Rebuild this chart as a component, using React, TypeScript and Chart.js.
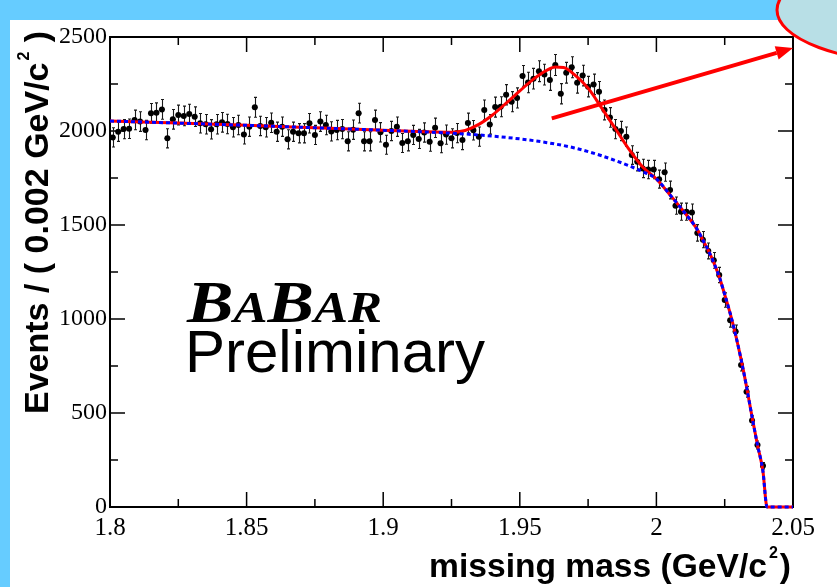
import React, { useEffect, useRef } from 'react';
import { Chart, registerables } from 'chart.js';

Chart.register(...registerables);

// ---- data ----
const binLow = 1.8;
const binWidth = 0.002;
const counts = [
  1966, 1996, 2010, 2012, 2059, 2050, 2005, 2094, 2097, 2115,
  1961, 2062, 2085, 2080, 2090, 2076, 2041, 2036, 2009, 2036,
  2046, 2037, 2020, 2032, 1982, 2023, 2126, 2027, 2020, 2044,
  1996, 2023, 1956, 1996, 1988, 1988, 2041, 1979, 2050, 2032,
  1998, 2005, 2010, 1945, 2007, 2095, 1945, 1945, 2059, 1993,
  1927, 2000, 2023, 1936, 1945, 1979, 1958, 1992, 1943, 2017,
  1935, 1981, 1961, 1989, 1952, 2043, 2004, 1970, 2112, 2035,
  2127, 2129, 2193, 2156, 2176, 2293, 2258, 2278, 2318, 2300,
  2271, 2351, 2198, 2310, 2339, 2256, 2295, 2236, 2248, 2209,
  2112, 2072, 2010, 2000, 1970, 1872, 1837, 1801, 1795, 1795,
  1744, 1781, 1686, 1603, 1571, 1571, 1566, 1458, 1422, 1362,
  1312, 1234, 1101, 993, 933, 755, 613, 460, 330, 220,
];

const bkgMass = [
  1.8, 1.825, 1.85, 1.875, 1.9, 1.92, 1.93, 1.94, 1.95, 1.96, 1.97, 1.98, 1.99,
  1.995, 2.0, 2.005, 2.01, 2.015, 2.017, 2.019, 2.021, 2.023, 2.025, 2.027,
  2.029, 2.031, 2.033, 2.035, 2.037, 2.039, 2.0405, 2.05,
];
const bkgEvents = [
  2053, 2042, 2030, 2017, 2004, 1992, 1984, 1973, 1958, 1938, 1910, 1868, 1815,
  1783, 1745, 1660, 1572, 1475, 1420, 1365, 1300, 1225, 1130, 1030,
  915, 785, 640, 480, 330, 190, 0, 0,
];

const totMass = [
  1.8, 1.825, 1.85, 1.875, 1.9, 1.915, 1.925, 1.93, 1.935, 1.94, 1.945, 1.95,
  1.955, 1.96, 1.963, 1.966, 1.97, 1.975, 1.98, 1.985, 1.99, 1.995, 2.0, 2.005,
  2.01, 2.015, 2.017, 2.019, 2.021, 2.023, 2.025, 2.027, 2.029, 2.031, 2.033,
  2.035, 2.037, 2.039, 2.0405, 2.05,
];
const totEvents = [
  2053, 2042, 2030, 2017, 2004, 1996, 1993, 2003, 2035, 2085, 2148, 2213,
  2276, 2324, 2340, 2338, 2300, 2228, 2122, 2012, 1902, 1808, 1745, 1660,
  1572, 1475, 1420, 1365, 1300, 1225, 1130, 1030, 915, 785, 640,
  480, 330, 190, 0, 0,
];

const xTickValues = [1.8, 1.85, 1.9, 1.95, 2.0, 2.05];
const xTickLabels = ['1.8', '1.85', '1.9', '1.95', '2', '2.05'];
const xMinorTicks = [1.825, 1.875, 1.925, 1.975, 2.025];
const yTickValues = [0, 500, 1000, 1500, 2000, 2500];
const yTickLabels = ['0', '500', '1000', '1500', '2000', '2500'];
const yMinorTicks = [250, 750, 1250, 1750, 2250];

const arrowFrom = { x: 1.9617, y: 2067 };
const arrowTo = { x: 2.05, y: 2441 };

const errScale = 1.15;

const SANS = '"Liberation Sans", Arial, sans-serif';
const SERIF = '"Liberation Serif", "Times New Roman", serif';

const decorPlugin = {
  id: 'decor',
  beforeDraw(chart: any) {
    const { ctx, width, height } = chart;
    ctx.save();
    ctx.fillStyle = '#66ccff';
    ctx.fillRect(0, 0, width, height);
    ctx.fillStyle = '#ffffff';
    ctx.fillRect(10, 20, width - 10, height - 20);
    ctx.restore();
  },
  beforeDatasetsDraw(chart: any) {
    const { ctx, chartArea } = chart;
    const xs = chart.scales.x;
    const ys = chart.scales.y;
    const { left, right, top, bottom } = chartArea;
    ctx.save();

    // frame
    ctx.strokeStyle = '#000';
    ctx.lineWidth = 2;
    ctx.strokeRect(left, top, right - left, bottom - top);

    // ticks (inside the frame, ROOT style)
    ctx.lineWidth = 1.5;
    const majorLen = 15;
    const minorLen = 8;
    const xTick = (v: number, len: number) => {
      const p = xs.getPixelForValue(v);
      ctx.beginPath();
      ctx.moveTo(p, bottom);
      ctx.lineTo(p, bottom - len);
      ctx.moveTo(p, top);
      ctx.lineTo(p, top + len);
      ctx.stroke();
    };
    const yTick = (v: number, len: number) => {
      const p = ys.getPixelForValue(v);
      ctx.beginPath();
      ctx.moveTo(left, p);
      ctx.lineTo(left + len, p);
      ctx.moveTo(right, p);
      ctx.lineTo(right - len, p);
      ctx.stroke();
    };
    xTickValues.forEach((v) => xTick(v, majorLen));
    xMinorTicks.forEach((v) => xTick(v, minorLen));
    yTickValues.forEach((v) => yTick(v, majorLen));
    yMinorTicks.forEach((v) => yTick(v, minorLen));

    // error bars
    ctx.beginPath();
    ctx.rect(left, top, right - left, bottom - top);
    ctx.clip();
    ctx.strokeStyle = '#1a1a1a';
    ctx.lineWidth = 1.1;
    counts.forEach((v, i) => {
      const xc = binLow + binWidth * (i + 0.5);
      const e = Math.sqrt(v) * errScale;
      const px = Math.round(xs.getPixelForValue(xc)) + 0.5;
      const pLo = ys.getPixelForValue(v - e);
      const pHi = ys.getPixelForValue(v + e);
      const py = ys.getPixelForValue(v);
      const pl = xs.getPixelForValue(xc - binWidth / 2);
      const pr = xs.getPixelForValue(xc + binWidth / 2);
      ctx.beginPath();
      ctx.moveTo(px, pLo);
      ctx.lineTo(px, pHi);
      ctx.moveTo(px - 1.5, pLo);
      ctx.lineTo(px + 1.5, pLo);
      ctx.moveTo(px - 1.5, pHi);
      ctx.lineTo(px + 1.5, pHi);
      ctx.moveTo(pl, py);
      ctx.lineTo(pr, py);
      ctx.stroke();
    });
    ctx.restore();
  },
  afterDraw(chart: any) {
    const { ctx } = chart;
    const xs = chart.scales.x;
    const ys = chart.scales.y;
    ctx.save();

    // axis titles
    ctx.fillStyle = '#000';
    ctx.textAlign = 'left';
    ctx.textBaseline = 'alphabetic';
    const big = `bold 33.6px ${SANS}`;
    const sup = `bold 16px ${SANS}`;

    // x title
    const xt = 'missing mass (GeV/c';
    ctx.font = big;
    const wx = ctx.measureText(xt).width;
    ctx.font = sup;
    const wsx = ctx.measureText('2').width;
    ctx.font = big;
    const wpx = ctx.measureText(')').width;
    const xEnd = 791;
    const xStart = xEnd - (wx + 2 + wsx + 2 + wpx);
    ctx.fillText(xt, xStart, 577);
    ctx.font = sup;
    ctx.fillText('2', xStart + wx + 2, 558);
    ctx.font = big;
    ctx.fillText(')', xStart + wx + 2 + wsx + 2, 577);

    // y title
    ctx.save();
    ctx.translate(48, 414);
    ctx.rotate(-Math.PI / 2);
    const yt = 'Events / ( 0.002 GeV/c';
    ctx.font = `bold 34px ${SANS}`;
    ctx.fillText(yt, 0, 0);
    const wy = ctx.measureText(yt).width;
    ctx.font = sup;
    ctx.fillText('2', wy + 2, -19);
    const wsy = ctx.measureText('2').width;
    ctx.font = `bold 34px ${SANS}`;
    ctx.fillText(' )', wy + 2 + wsy, 0);
    ctx.restore();

    // BaBar logo
    ctx.save();
    ctx.translate(187, 322);
    ctx.scale(1.16, 1);
    let lx = 0;
    const parts: [string, number][] = [['B', 60], ['A', 44], ['B', 60], ['AR', 44]];
    parts.forEach(([t, s]) => {
      ctx.font = `italic bold ${s}px ${SERIF}`;
      ctx.fillText(t, lx, 0);
      lx += ctx.measureText(t).width;
    });
    ctx.restore();
    ctx.font = `normal 60px ${SANS}`;
    ctx.fillText('Preliminary', 185, 372);

    // arrow
    const ax0 = xs.getPixelForValue(arrowFrom.x);
    const ay0 = ys.getPixelForValue(arrowFrom.y);
    const ax1 = xs.getPixelForValue(arrowTo.x);
    const ay1 = ys.getPixelForValue(arrowTo.y);
    const ang = Math.atan2(ay1 - ay0, ax1 - ax0);
    const headLen = 17;
    const headW = 7;
    const bx = ax1 - headLen * Math.cos(ang);
    const by = ay1 - headLen * Math.sin(ang);
    ctx.strokeStyle = '#ff0000';
    ctx.fillStyle = '#ff0000';
    ctx.lineWidth = 4;
    ctx.beginPath();
    ctx.moveTo(ax0, ay0);
    ctx.lineTo(bx, by);
    ctx.stroke();
    ctx.beginPath();
    ctx.moveTo(ax1, ay1);
    ctx.lineTo(bx + headW * Math.sin(ang), by - headW * Math.cos(ang));
    ctx.lineTo(bx - headW * Math.sin(ang), by + headW * Math.cos(ang));
    ctx.closePath();
    ctx.fill();

    // callout ellipse (top right)
    ctx.beginPath();
    ctx.ellipse(920, 10, 143, 53, 0, 0, Math.PI * 2);
    ctx.fillStyle = '#b8dfe6';
    ctx.fill();
    ctx.lineWidth = 3;
    ctx.strokeStyle = '#ff0000';
    ctx.stroke();

    ctx.restore();
  },
};

export default function App() {
  const canvasRef = useRef<HTMLCanvasElement | null>(null);

  useEffect(() => {
    const canvas = canvasRef.current;
    if (!canvas) return;
    const points = counts.map((v, i) => ({ x: binLow + binWidth * (i + 0.5), y: v }));
    const bkg = bkgMass.map((m, i) => ({ x: m, y: bkgEvents[i] }));
    const tot = totMass.map((m, i) => ({ x: m, y: totEvents[i] }));

    const chart = new Chart(canvas, {
      type: 'scatter',
      data: {
        datasets: [
          {
            label: 'background',
            data: bkg,
            showLine: true,
            borderColor: '#0000ff',
            borderWidth: 3,
            borderDash: [4, 3],
            pointRadius: 0,
            cubicInterpolationMode: 'monotone',
            fill: false,
            clip: 3,
          },
          {
            label: 'total',
            data: tot,
            showLine: true,
            borderColor: '#ff0000',
            borderWidth: 3,
            pointRadius: 0,
            cubicInterpolationMode: 'monotone',
            fill: false,
            clip: 3,
          },
          {
            label: 'data',
            data: points,
            showLine: false,
            pointRadius: 3,
            pointBackgroundColor: '#000',
            pointBorderWidth: 0,
            borderColor: '#000',
          },
        ],
      } as any,
      options: {
        animation: false,
        responsive: false,
        events: [],
        layout: { padding: { left: 0, top: 37, right: 44, bottom: 0 } },
        plugins: { legend: { display: false }, tooltip: { enabled: false } },
        scales: {
          x: {
            type: 'linear',
            min: 1.8,
            max: 2.05,
            grid: { display: false, drawTicks: false },
            border: { display: false },
            afterBuildTicks: (scale: any) => {
              scale.ticks = xTickValues.map((v) => ({ value: v }));
            },
            afterFit: (scale: any) => {
              scale.height = 80;
            },
            ticks: {
              autoSkip: false,
              maxRotation: 0,
              padding: 6,
              color: '#000',
              font: { family: SERIF, size: 25 },
              callback: (_v: any, i: number) => xTickLabels[i],
            },
          },
          y: {
            type: 'linear',
            min: 0,
            max: 2500,
            grid: { display: false, drawTicks: false },
            border: { display: false },
            afterBuildTicks: (scale: any) => {
              scale.ticks = yTickValues.map((v) => ({ value: v }));
            },
            afterFit: (scale: any) => {
              scale.width = 110;
            },
            ticks: {
              autoSkip: false,
              padding: 3,
              color: '#000',
              font: { family: SERIF, size: 24 },
              callback: (_v: any, i: number) => yTickLabels[i],
            },
          },
        },
      } as any,
      plugins: [decorPlugin],
    });
    return () => chart.destroy();
  }, []);

  return (
    <div style={{ position: 'fixed', left: 0, top: 0, width: 837, height: 587 }}>
      <canvas ref={canvasRef} width={837} height={587} style={{ display: 'block' }} />
    </div>
  );
}
